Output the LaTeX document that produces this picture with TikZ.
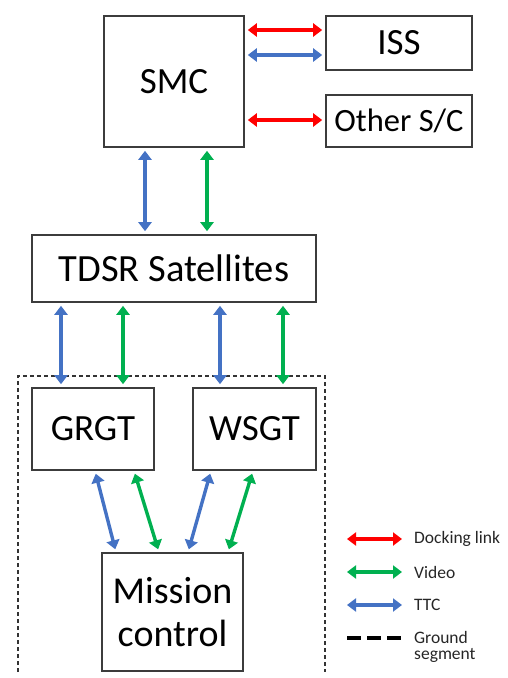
\documentclass[tikz,border=0pt]{standalone}
\usepackage{fontspec}
\setmainfont{Carlito}
\usetikzlibrary{arrows.meta}
\definecolor{dockred}{RGB}{255,0,0}
\definecolor{videogreen}{RGB}{0,176,80}
\definecolor{ttcblue}{RGB}{68,114,196}
\definecolor{boxgray}{RGB}{60,60,60}
\tikzset{
  blk/.style={draw=boxgray, line width=1.6pt, fill=white, inner sep=0pt,
    font=\fontsize{37}{43}\selectfont, align=center},
  link/.style={line width=3.4pt, {Triangle[length=9pt,width=13pt]}-{Triangle[length=9pt,width=13pt]},
    shorten >=3pt, shorten <=3pt},
  dock/.style={link, draw=dockred, fill=dockred},
  video/.style={link, draw=videogreen, fill=videogreen},
  ttc/.style={link, draw=ttcblue, fill=ttcblue},
  legtext/.style={anchor=west, inner sep=0pt, font=\fontsize{17.5}{16}\selectfont, text=black!85, align=left},
}
\begin{document}
\begin{tikzpicture}[x=1pt,y=-1pt]
\useasboundingbox (0,0) rectangle (508,678);

% blocks
\node[blk, minimum width=140pt, minimum height=131pt] (smc) at (174,81.5) {SMC};
\node[blk, minimum width=146pt, minimum height=54pt] (iss) at (399,43) {ISS};
\node[blk, minimum width=146pt, minimum height=52pt, font=\fontsize{32.5}{38}\selectfont] (other) at (399,121) {Other S/C};
\node[blk, minimum width=284pt, minimum height=67pt, font=\fontsize{38.5}{44}\selectfont] (tdsr) at (174,268.5) {TDSR Satellites};
\node[blk, minimum width=122pt, minimum height=82pt] (grgt) at (93,429) {GRGT};
\node[blk, minimum width=123pt, minimum height=82pt] (wsgt) at (254.5,429) {WSGT};
\node[blk, minimum width=141pt, minimum height=118pt, font=\fontsize{38}{43}\selectfont] (mc) at (172.5,612) {Mission\\control};

% ground segment boundary (open at the bottom)
\coordinate (gbl) at (18,672);
\coordinate (gtl) at (18,376);
\coordinate (gtr) at (325,376);
\coordinate (gbr) at (325,672);
\draw[black!80, line width=1.3pt, dash pattern=on 4pt off 3pt] (gbl) -- (gtl) -- (gtr) -- (gbr);

% space links
\draw[dock] (smc.east |- 0,30)  -- (iss.west |- 0,30);
\draw[ttc]  (smc.east |- 0,55)  -- (iss.west |- 0,55);
\draw[dock] (smc.east |- 0,120) -- (other.west |- 0,120);

\draw[ttc]   (smc.south -| 145,0) -- (tdsr.north -| 145,0);
\draw[video] (smc.south -| 207,0) -- (tdsr.north -| 207,0);

\draw[ttc]   (tdsr.south -| 61,0) -- (grgt.north -| 61,0);
\draw[video] (tdsr.south -| 123,0) -- (grgt.north -| 123,0);
\draw[ttc]   (tdsr.south -| 220,0) -- (wsgt.north -| 220,0);
\draw[video] (tdsr.south -| 283,0) -- (wsgt.north -| 283,0);

% ground links
\draw[ttc]   (grgt.south -| 95,0) -- (mc.north -| 116,0);
\draw[video] (grgt.south -| 134,0) -- (mc.north -| 159,0);
\draw[ttc]   (wsgt.south -| 211,0) -- (mc.north -| 188,0);
\draw[video] (wsgt.south -| 253,0) -- (mc.north -| 228,0);

% legend
\coordinate (l1a) at (347,539); \coordinate (l1b) at (402,539);
\coordinate (l2a) at (347,572); \coordinate (l2b) at (402,572);
\coordinate (l3a) at (347,605); \coordinate (l3b) at (402,605);
\coordinate (l4a) at (347,638); \coordinate (l4b) at (402,638);
\draw[dock, shorten >=0pt, shorten <=0pt]  (l1a) -- (l1b);
\draw[video, shorten >=0pt, shorten <=0pt] (l2a) -- (l2b);
\draw[ttc, shorten >=0pt, shorten <=0pt]   (l3a) -- (l3b);
\draw[black, line width=3.4pt, dash pattern=on 14pt off 6pt] (l4a) -- (l4b);
\node[legtext] (t1) at (414,539) {Docking link};
\node[legtext] (t2) at (414,572) {Video};
\node[legtext] (t3) at (414,605) {TTC};
\node[legtext, anchor=north west] (t4) at (414,631) {Ground\\segment};
\end{tikzpicture}
\end{document}
